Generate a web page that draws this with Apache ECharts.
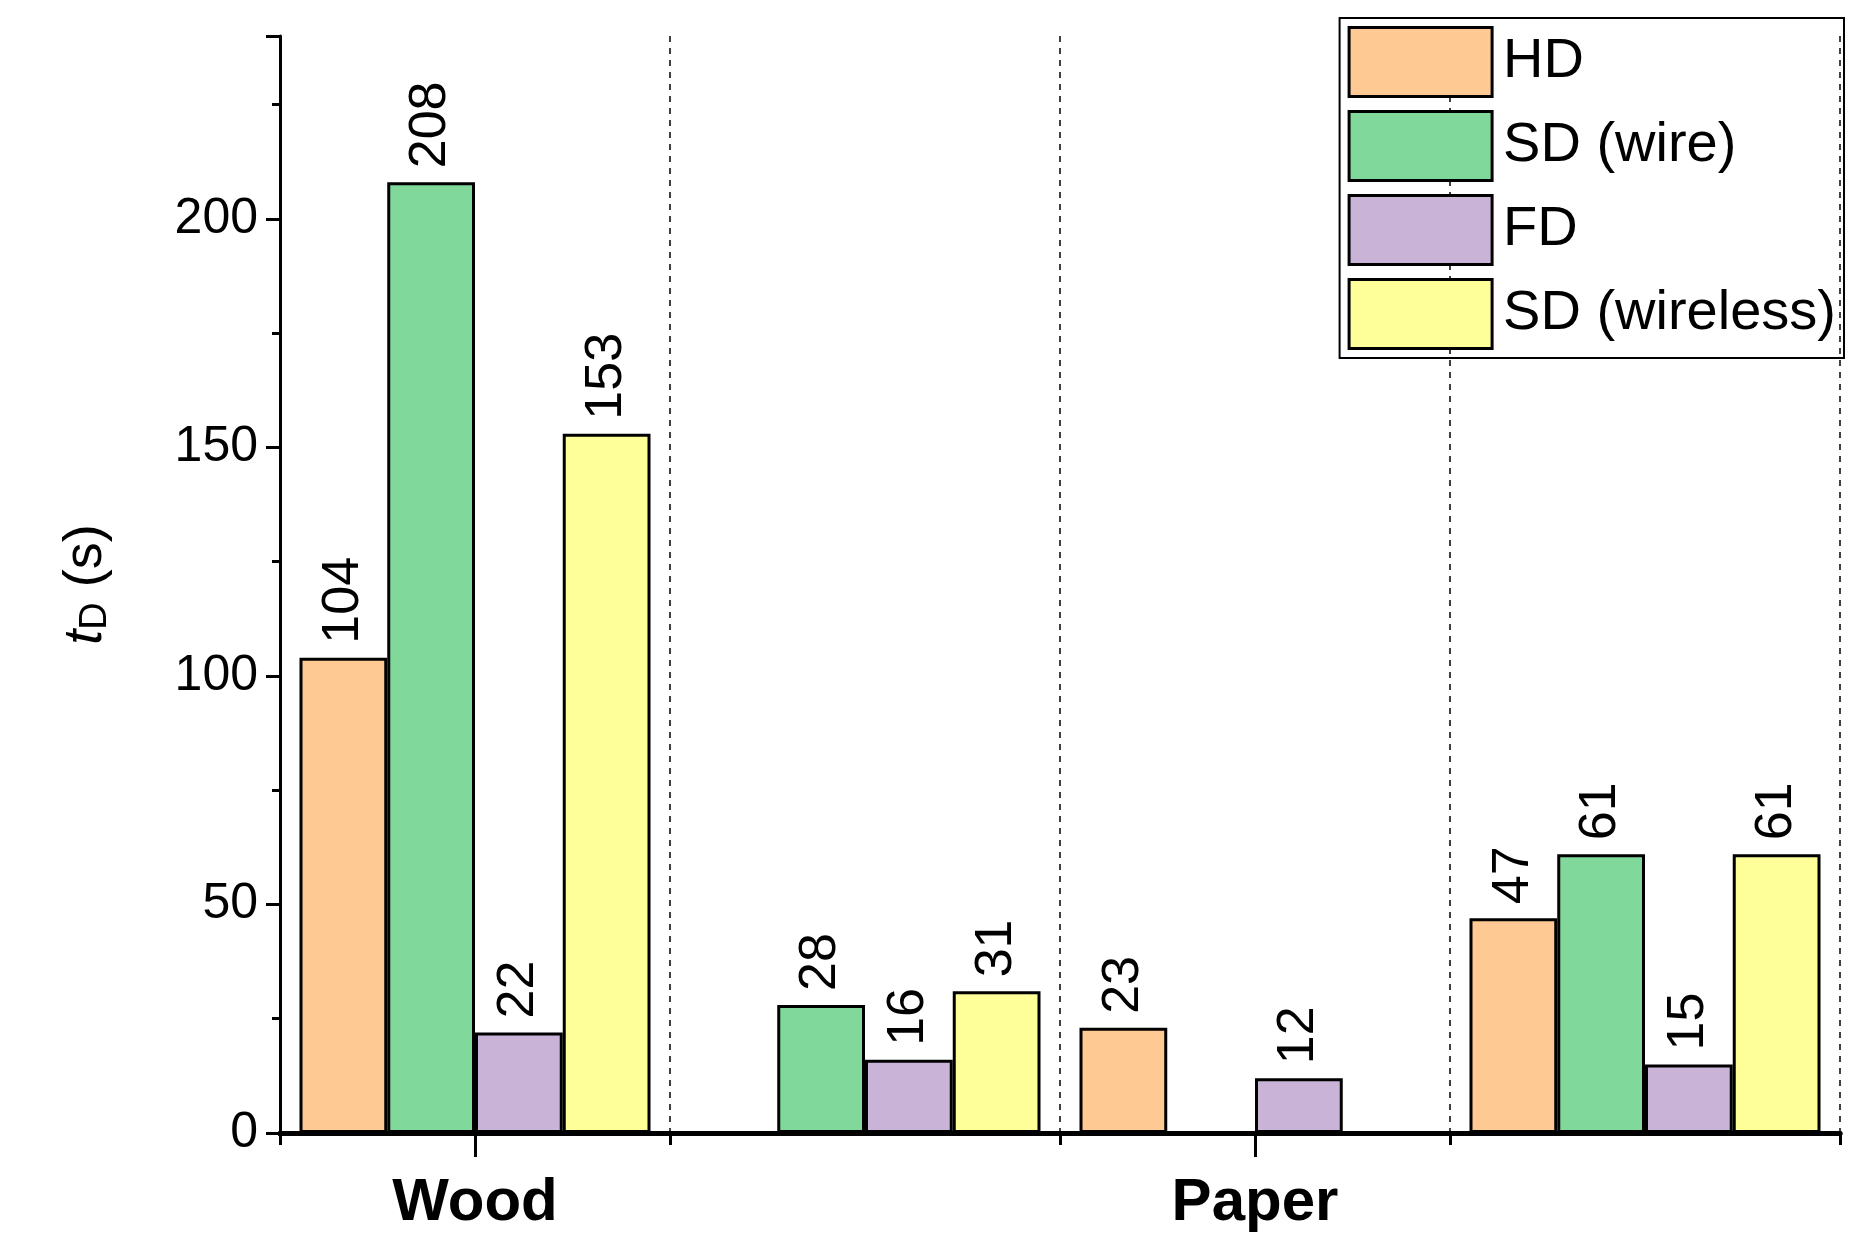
<!DOCTYPE html>
<html><head><meta charset="utf-8">
<script src="https://cdn.jsdelivr.net/npm/echarts@6/dist/echarts.min.js"></script>
<style>html,body{margin:0;padding:0;background:#fff}#c{width:1860px;height:1259px}</style>
</head><body><div id="c"></div>
<script>
var categories = ['Wood', 'Linoleum', 'Paper', 'Cardboard'];
var hd = [104, null, 23, 47];
var sdWire = [208, 28, null, 61];
var fd = [22, 16, 12, 15];
var sdWireless = [153, 31, null, 61];

var myChart = echarts.init(document.getElementById('c'));
var font = 'Liberation Sans, Arial, sans-serif';

function bar(name, data, color) {
    return {
        name: name, type: 'bar', data: data, barGap: '0%', barCategoryGap: '10%',
        itemStyle: { color: color, borderColor: '#000', borderWidth: 3 },
        label: {
            show: true, position: 'top', rotate: 90, align: 'left', verticalAlign: 'middle',
            distance: 14, fontSize: 52, color: '#000', fontFamily: font
        }
    };
}

option = {
    animation: false,
    grid: { left: 280, right: 20, top: 36, bottom: 126 },
    legend: {
        right: 16, top: 18, orient: 'vertical', icon: 'rect', itemWidth: 143, itemHeight: 69, itemGap: 12,
        borderColor: '#000', borderWidth: 2, padding: [8, 8, 8, 8],
        textStyle: { fontSize: 56, fontFamily: font, color: '#000', padding: [0, 0, 0, 6] },
        itemStyle: { borderColor: '#000', borderWidth: 3 }
    },
    xAxis: [{
        type: 'category', data: categories, position: 'bottom',
        axisLine: { show: true, lineStyle: { color: '#000', width: 5 } },
        axisTick: { show: true, length: 12, lineStyle: { color: '#000', width: 3 } },
        axisLabel: { show: false },
        splitLine: { show: true, lineStyle: { color: '#000', type: [6, 6], width: 1.5 } }
    }, {
        type: 'category', data: categories, position: 'bottom',
        axisLine: { show: true, lineStyle: { color: '#000', width: 5 } },
        axisTick: { show: true, alignWithLabel: true, length: 24, lineStyle: { color: '#000', width: 3 } },
        axisLabel: { margin: 40, fontSize: 60, fontWeight: 'bold', fontFamily: font, color: '#000' }
    }],
    yAxis: {
        type: 'value', min: 0, max: 240, interval: 50,
        name: '{t|t}{d|D}{n| (s)}', nameLocation: 'middle', nameGap: 165, nameRotate: 90,
        nameTextStyle: { rich: {
            t: { fontSize: 54, fontStyle: 'italic', fontFamily: font, color: '#000' },
            d: { fontSize: 38, fontFamily: font, color: '#000', verticalAlign: 'bottom', padding: [20, 0, 0, 0] },
            n: { fontSize: 54, fontFamily: font, color: '#000' }
        } },
        axisLine: { show: true, lineStyle: { color: '#000', width: 3 } },
        axisTick: { show: true, length: 14, lineStyle: { color: '#000', width: 3 } },
        minorTick: { show: true, splitNumber: 2, length: 8, lineStyle: { color: '#000', width: 3 } },
        axisLabel: { fontSize: 50, fontFamily: font, color: '#000', margin: 22,
            formatter: function (v) { return v > 200 ? '' : v; } },
        splitLine: { show: false }
    },
    series: [
        bar('HD', hd, '#ffc994'),
        bar('SD (wire)', sdWire, '#80d99b'),
        bar('FD', fd, '#c9b4d8'),
        bar('SD (wireless)', sdWireless, '#ffff99')
    ]
};
myChart.setOption(option);
</script></body></html>
